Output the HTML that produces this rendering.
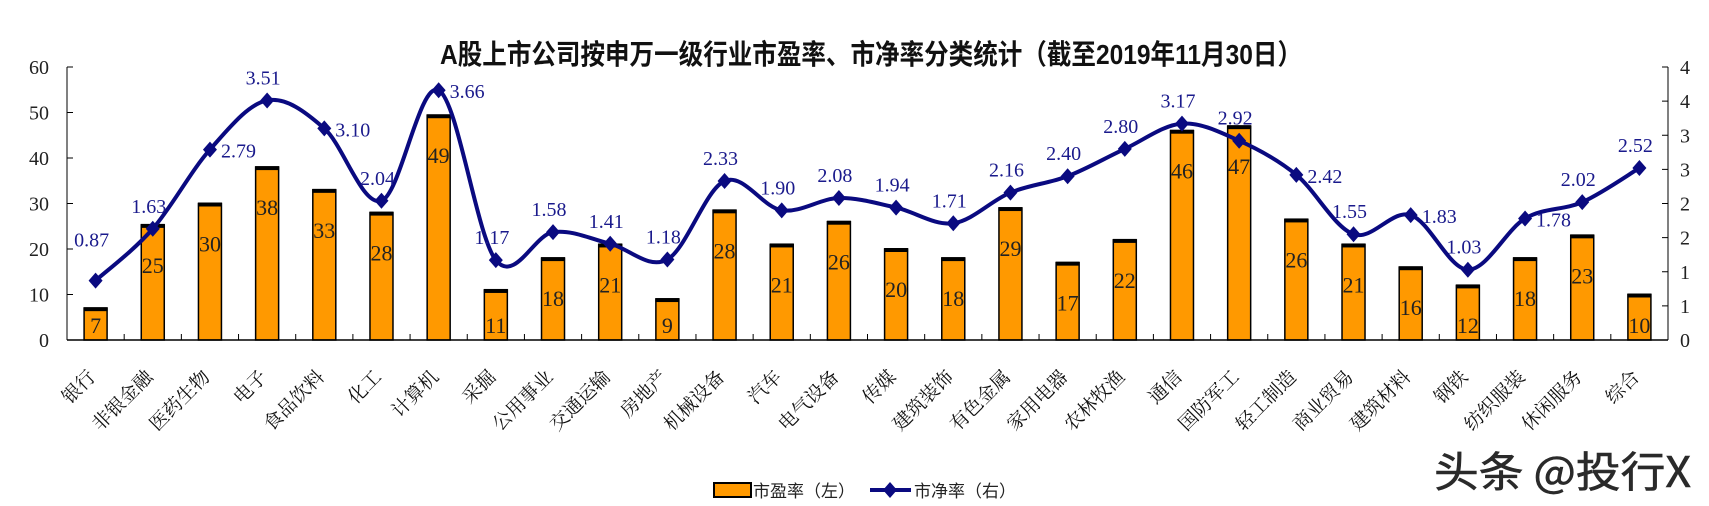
<!DOCTYPE html>
<html><head><meta charset="utf-8">
<style>
html,body{margin:0;padding:0;background:#fff;}
svg{display:block;}
</style></head>
<body>
<svg id="c" width="1709" height="506" xmlns="http://www.w3.org/2000/svg">
<text x="871" y="64" text-anchor="middle" font-family="'Liberation Sans','Noto Sans CJK SC',sans-serif" font-weight="bold" font-size="28" textLength="862" lengthAdjust="spacingAndGlyphs" fill="#111">A股上市公司按申万一级行业市盈率、市净率分类统计（截至2019年11月30日）</text>
</svg>
<script>
const cats=["银行","非银金融","医药生物","电子","食品饮料","化工","计算机","采掘","公用事业","交通运输","房地产","机械设备","汽车","电气设备","传媒","建筑装饰","有色金属","家用电器","农林牧渔","通信","国防军工","轻工制造","商业贸易","建筑材料","钢铁","纺织服装","休闲服务","综合"];
const pe=[7,25.3,30,38,33,28,49.4,11,18,21,9,28.5,21,26,20,18,29,17,22,46,47,26.5,21,16,12,18,23,10];
const lab=[7,25,30,38,33,28,49,11,18,21,9,28,21,26,20,18,29,17,22,46,47,26,21,16,12,18,23,10];
const pb=[0.87,1.63,2.79,3.51,3.10,2.04,3.66,1.17,1.58,1.41,1.18,2.33,1.90,2.08,1.94,1.71,2.16,2.40,2.80,3.17,2.92,2.42,1.55,1.83,1.03,1.78,2.02,2.52];
const pos="aarararaaaaaaaaaaaaaarararaa";
const L=67,R=1668,T=67,B=340,W=(R-L)/28;
const svg=document.getElementById('c');let h='';
const serif="'Liberation Serif','Noto Serif CJK SC',serif";
h+=`<line x1="${L}" y1="${T}" x2="${L}" y2="${B}" stroke="#000" stroke-width="1"/>`;
h+=`<line x1="${R}" y1="${T}" x2="${R}" y2="${B}" stroke="#000" stroke-width="1"/>`;
for(let i=0;i<=6;i++){const y=B-(B-T)*i/6;
 h+=`<line x1="${L}" y1="${y}" x2="${L+6}" y2="${y}" stroke="#000"/>`;
 h+=`<text x="49" y="${y+7}" text-anchor="end" font-family="${serif}" font-size="20" fill="#222">${i*10}</text>`;}
const rl=["0","1","1","2","2","3","3","4","4"];
for(let i=0;i<=8;i++){const y=B-(B-T)*i/8;
 h+=`<line x1="${R-6}" y1="${y}" x2="${R}" y2="${y}" stroke="#000"/>`;
 h+=`<text x="1680" y="${y+7}" font-family="${serif}" font-size="20" fill="#222">${rl[i]}</text>`;}
for(let i=0;i<28;i++){const cx=L+W*(i+0.5);const top=B-pe[i]*(B-T)/60;
 h+=`<rect x="${cx-11.5}" y="${top}" width="23" height="${B-top}" fill="#FF9900" stroke="#000" stroke-width="1.5"/>`;
 h+=`<rect x="${cx-12}" y="${top-1}" width="24" height="4" fill="#000"/>`;
 const ly=Math.min(top+48,333);
 h+=`<text x="${cx}" y="${ly}" text-anchor="middle" font-family="${serif}" font-size="22" fill="#222">${lab[i]}</text>`;
 h+=`<text transform="translate(${cx+1},378) rotate(-45)" text-anchor="end" font-family="${serif}" font-size="19" fill="#111">${cats[i]}</text>`;}
h+=`<line x1="${L}" y1="${B}" x2="${R}" y2="${B}" stroke="#000" stroke-width="1.5"/>`;
for(let k=1;k<28;k++){const x=L+W*k;h+=`<line x1="${x}" y1="${B-6}" x2="${x}" y2="${B}" stroke="#000"/>`;}
const P=pb.map((v,i)=>[L+W*(i+0.5),B-v*(B-T)/4]);
let d=`M${P[0][0]},${P[0][1]}`;
for(let i=0;i<P.length-1;i++){const p0=P[Math.max(i-1,0)],p1=P[i],p2=P[i+1],p3=P[Math.min(i+2,P.length-1)];
 const c1=[p1[0]+(p2[0]-p0[0])/6,p1[1]+(p2[1]-p0[1])/6],c2=[p2[0]-(p3[0]-p1[0])/6,p2[1]-(p3[1]-p1[1])/6];
 d+=` C${c1[0]},${c1[1]} ${c2[0]},${c2[1]} ${p2[0]},${p2[1]}`;}
h+=`<path d="${d}" fill="none" stroke="#0a0a80" stroke-width="4"/>`;
P.forEach((p,i)=>{h+=`<path d="M${p[0]},${p[1]-8} L${p[0]+7},${p[1]} L${p[0]},${p[1]+8} L${p[0]-7},${p[1]}Z" fill="#0a0a80"/>`;
 let x,y,a;
 if(pos[i]=='r'){x=p[0]+11;y=p[1]+8;a='start';}else{x=p[0]-4;y=p[1]-16;a='middle';}
 if(i==0)y=p[1]-34;
 h+=`<text x="${x}" y="${y}" text-anchor="${a}" font-family="${serif}" font-size="20" fill="#1a1a8c">${pb[i].toFixed(2)}</text>`;});
h+=`<rect x="714" y="483" width="37" height="14" fill="#FF9900" stroke="#000" stroke-width="2"/>`;
h+=`<text x="753" y="497" font-family="'Liberation Sans','Noto Sans CJK SC',sans-serif" font-size="17" fill="#222">市盈率（左）</text>`;
h+=`<line x1="870" y1="490" x2="911" y2="490" stroke="#0a0a80" stroke-width="4"/>`;
h+=`<path d="M890,482 L897,490 L890,498 L883,490Z" fill="#0a0a80"/>`;
h+=`<text x="914" y="497" font-family="'Liberation Sans','Noto Sans CJK SC',sans-serif" font-size="17" fill="#222">市净率（右）</text>`;
h+=`<text x="1434" y="487" font-family="'Noto Sans CJK SC',sans-serif" font-size="42" fill="#2a2a2a" stroke="#2a2a2a" stroke-width="0.6" textLength="257" lengthAdjust="spacingAndGlyphs">头条 @投行X</text>`;
svg.insertAdjacentHTML('beforeend',h);
</script>
</body></html>
